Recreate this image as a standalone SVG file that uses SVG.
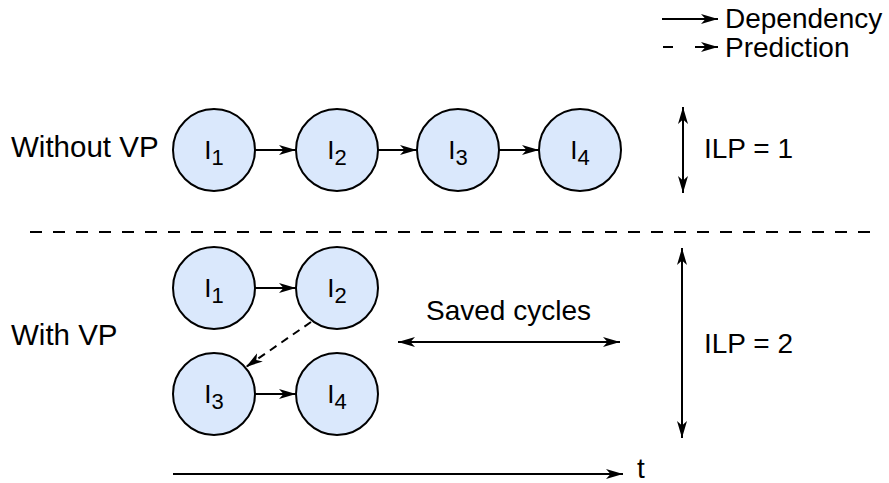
<svg xmlns="http://www.w3.org/2000/svg" width="889" height="483" viewBox="0 0 889 483">
<style>
  .lbl { font-family: "Liberation Sans", Arial, sans-serif; font-size: 28px; fill: #000; }
  .big { font-size: 29.5px; }
  .node circle { fill: #dae8fc; stroke: #000; stroke-width: 2; }
  .node text { font-family: "Liberation Sans", Arial, sans-serif; font-size: 26px; fill: #000; text-anchor: middle; }
  .sub { font-size: 22px; }
  .conn { stroke: #000; stroke-width: 2; fill: none; }
  .dep { marker-end: url(#ah); }
  .both { marker-start: url(#ahs); marker-end: url(#ah); }
  .pred { stroke-dasharray: 8 6; marker-end: url(#ah); }
</style>
<defs>
  <marker id="ah" markerUnits="userSpaceOnUse" markerWidth="18" markerHeight="11" refX="17" refY="5.5" orient="auto">
    <path d="M0,0.5 L17,5.5 L0,10.5 L4.5,5.5 z" fill="#000"/>
  </marker>
  <marker id="ahs" markerUnits="userSpaceOnUse" markerWidth="18" markerHeight="11" refX="0" refY="5.5" orient="auto">
    <path d="M17,0.5 L0,5.5 L17,10.5 L12.5,5.5 z" fill="#000"/>
  </marker>
</defs>
<rect width="889" height="483" fill="#fff"/>

<g id="legend">
  <line class="conn dep" x1="662" y1="19" x2="718" y2="19"/>
  <text class="lbl" x="725" y="28">Dependency</text>
  <line class="conn" x1="663" y1="47" x2="673" y2="47"/>
  <line class="conn dep" x1="695" y1="47" x2="718" y2="47"/>
  <text class="lbl" x="725" y="57">Prediction</text>
</g>

<g id="labels">
  <text class="lbl big" x="11" y="157">Without VP</text>
  <text class="lbl big" x="11" y="345">With VP</text>
  <text class="lbl" x="704" y="158">ILP = 1</text>
  <text class="lbl" x="704" y="353">ILP = 2</text>
  <text class="lbl" x="426" y="320">Saved cycles</text>
  <text class="lbl" x="637" y="478">t</text>
</g>

<g id="connectors">
  <line class="conn dep" x1="255" y1="150" x2="296" y2="150"/>
  <line class="conn dep" x1="378" y1="150" x2="417" y2="150"/>
  <line class="conn dep" x1="499" y1="150" x2="539" y2="150"/>
  <line class="conn dep" x1="255" y1="288" x2="296" y2="288"/>
  <line class="conn dep" x1="255" y1="394" x2="296" y2="394"/>
  <line class="conn pred" x1="311" y1="322" x2="246" y2="367"/>
  <line class="conn both" x1="683" y1="107" x2="683" y2="193"/>
  <line class="conn both" x1="682" y1="248" x2="682" y2="438"/>
  <line class="conn both" x1="398" y1="342" x2="620" y2="342"/>
  <line class="conn dep" x1="173" y1="474" x2="623" y2="474"/>
  <line class="conn" x1="30" y1="232" x2="880" y2="232" stroke-dasharray="12 11"/>
</g>

<g id="top-I1" class="node"><circle cx="214" cy="150" r="41"/><text x="214" y="159">I<tspan class="sub" dy="6">1</tspan></text></g>
<g id="top-I2" class="node"><circle cx="337" cy="150" r="41"/><text x="337" y="159">I<tspan class="sub" dy="6">2</tspan></text></g>
<g id="top-I3" class="node"><circle cx="458" cy="150" r="41"/><text x="458" y="159">I<tspan class="sub" dy="6">3</tspan></text></g>
<g id="top-I4" class="node"><circle cx="580" cy="150" r="41"/><text x="580" y="159">I<tspan class="sub" dy="6">4</tspan></text></g>

<g id="bot-I1" class="node"><circle cx="214" cy="288" r="41"/><text x="214" y="297">I<tspan class="sub" dy="6">1</tspan></text></g>
<g id="bot-I2" class="node"><circle cx="337" cy="288" r="41"/><text x="337" y="297">I<tspan class="sub" dy="6">2</tspan></text></g>
<g id="bot-I3" class="node"><circle cx="214" cy="394" r="41"/><text x="214" y="403">I<tspan class="sub" dy="6">3</tspan></text></g>
<g id="bot-I4" class="node"><circle cx="337" cy="394" r="41"/><text x="337" y="403">I<tspan class="sub" dy="6">4</tspan></text></g>
</svg>
